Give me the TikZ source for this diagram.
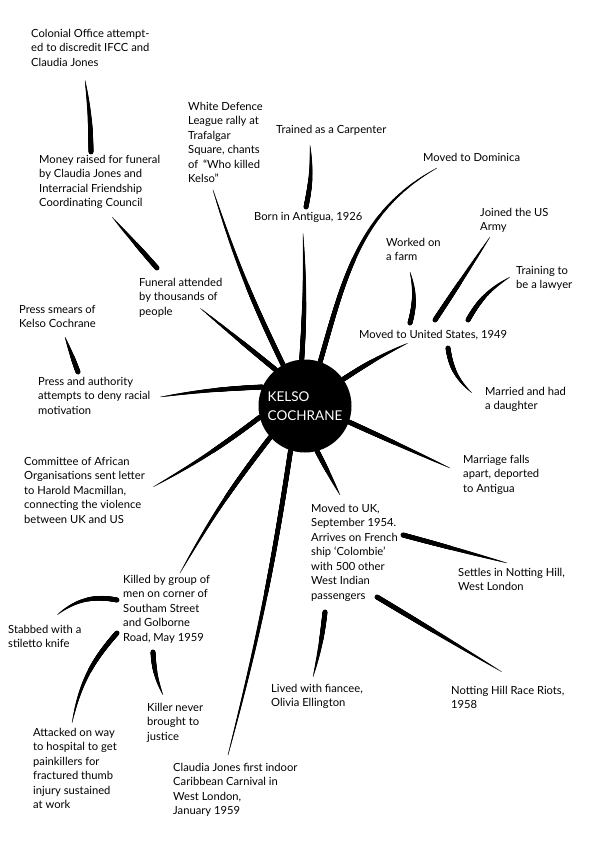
\documentclass[tikz,border=0pt]{standalone}
\usepackage{fontspec}
\setmainfont{Lato}
\usetikzlibrary{positioning, calc, decorations.markings}

\tikzset{
  note/.style={anchor=north west, inner sep=0pt, align=left, font=\fontsize{11.2}{14.5}\selectfont},
  brush/.style={decorate, decoration={markings,
      mark=between positions 0 and 1 step 0.4pt with {%
        \pgfmathsetmacro\brushr{#1*(1-(\pgfkeysvalueof{/pgf/decoration/mark info/distance from start}/\pgfdecoratedpathlength)^2)+0.25}%
        \fill circle[radius=\brushr pt];}}},
  brush/.default=2.2
}

\begin{document}
\begin{tikzpicture}[x=1pt, y=1pt]
  \fill[white] (0,0) rectangle (595,-842);
  \useasboundingbox (0,0) rectangle (595,-842);

  % centre
  \node[circle, fill=black, minimum size=93pt, inner sep=0, text=white, align=left,
        font=\fontsize{13.5}{19.5}\selectfont] (kelso) at (305,-406) {KELSO\\COCHRANE};

  % upper left
  \node[note] (colonial) at (31,-29) {Colonial Office attempt-\\ed to discredit IFCC and\\Claudia Jones};
  \node[note] (money) at (39,-155) {Money raised for funeral\\by Claudia Jones and\\Interracial Friendship\\Coordinating Council};
  \node[note] (white) at (188,-102) {White Defence\\League rally at\\Trafalgar\\Square, chants\\of \,“Who killed\\Kelso”};
  \node[note] (funeral) at (139,-278) {Funeral attended\\by thousands of\\people};
  \node[note] (smears) at (19,-305) {Press smears of\\Kelso Cochrane};
  \node[note] (press) at (38,-377) {Press and authority\\attempts to deny racial\\motivation};
  \node[note] (committee) at (24,-457) {Committee of African\\Organisations sent letter\\to Harold Macmillan,\\connecting the violence\\between UK and US};

  % upper right
  \node[note] (trained) at (276,-125) {Trained as a Carpenter};
  \node[note] (born) at (254,-212) {Born in Antigua, 1926};
  \node[note] (dominica) at (423,-153) {Moved to Dominica};
  \node[note] (army) at (480,-208) {Joined the US\\Army};
  \node[note] (farm) at (386,-238) {Worked on\\a farm};
  \node[note] (lawyer) at (516,-266) {Training to\\be a lawyer};
  \node[note] (states) at (359,-330) {Moved to United States, 1949};
  \node[note] (married) at (485,-387) {Married and had\\a daughter};
  \node[note] (marriage) at (463,-455) {Marriage falls\\apart, deported\\to Antigua};

  % lower right
  \node[note] (uk) at (311,-504) {Moved to UK,\\September 1954.\\Arrives on French\\ship ‘Colombie’\\with 500 other\\West Indian\\passengers};
  \node[note] (settles) at (458,-568) {Settles in Notting Hill,\\West London};
  \node[note] (riots) at (451,-686) {Notting Hill Race Riots,\\1958};
  \node[note] (fiancee) at (271,-684) {Lived with fiancee,\\Olivia Ellington};

  % lower left
  \node[note] (killed) at (123,-575) {Killed by group of\\men on corner of\\Southam Street\\and Golborne\\Road, May 1959};
  \node[note] (stabbed) at (8,-625) {Stabbed with a\\stiletto knife};
  \node[note] (attacked) at (33,-728) {Attacked on way\\to hospital to get\\painkillers for\\fractured thumb\\injury sustained\\at work};
  \node[note] (killer) at (147,-703) {Killer never\\brought to\\justice};
  \node[note] (claudia) at (173,-763) {Claudia Jones first indoor\\Caribbean Carnival in\\West London,\\January 1959};

  % strokes from the centre
  \path[brush] (kelso.129.5) -- ([shift={(61,-30)}]funeral.north west);
  \path[brush] (kelso.118) to[bend left=4] ([shift={(25,-88)}]white.north west);
  \path[brush] (kelso.94) to[bend right=3] ([shift={(49,-21)}]born.north west);
  \path[brush] (kelso.71) to[out=74, in=209] ([shift={(14,-15)}]dominica.north west);
  \path[brush] (kelso.35) to[bend left=4] ([shift={(49,-13)}]states.north west);
  \path[brush] (kelso.-20) -- ([shift={(-13,-13)}]marriage.north west);
  \path[brush] (kelso.-75) -- ([shift={(29,9)}]uk.north west);
  \path[brush] (kelso.-108) to[bend left=3] ([shift={(55,8)}]claudia.north west);
  \path[brush] (kelso.-138) to[bend right=4] ([shift={(57,2)}]killed.north west);
  \path[brush] (kelso.-166) to[bend left=4] ([shift={(129,-30)}]committee.north west);
  \path[brush] (kelso.156) to[bend right=3] ([shift={(122,-20)}]press.north west);

  % outer strokes
  \path[brush] ([shift={(52,5)}]born.north west) to[bend right=8] ([shift={(34,-20)}]trained.north west);
  \path[brush] ([shift={(51,7)}]states.north west) to[bend right=15] ([shift={(24,-34)}]farm.north west);
  \path[brush] ([shift={(76,10)}]states.north west) -- ([shift={(10,-29)}]army.north west);
  \path[brush] ([shift={(109,10)}]states.north west) to[bend left=15] ([shift={(-6,-11)}]lawyer.north west);
  \path[brush] ([shift={(89,-18)}]states.north west) to[bend right=20] ([shift={(-13,-6)}]married.north west);
  \path[brush] ([shift={(92,-31)}]uk.north west) -- ([shift={(49,5)}]settles.north west);
  \path[brush] ([shift={(66,-93)}]uk.north west) -- ([shift={(51,14)}]riots.north west);
  \path[brush] ([shift={(14,-108)}]uk.north west) to[bend left=4] ([shift={(42,7)}]fiancee.north west);
  \path[brush] ([shift={(40,5)}]press.north west) -- ([shift={(46,-32)}]smears.north west);
  \path[brush] ([shift={(18,10)}]funeral.north west) -- ([shift={(73,-62)}]money.north west);
  \path[brush] ([shift={(52,3)}]money.north west) to[bend right=4] ([shift={(54,-51)}]colonial.north west);
  \path[brush] ([shift={(-6,-25)}]killed.north west) to[bend right=25] ([shift={(49,10)}]stabbed.north west);
  \path[brush] ([shift={(-6,-58)}]killed.north west) to[bend right=15] ([shift={(39,5)}]attacked.north west);
  \path[brush] ([shift={(30,-77)}]killed.north west) to[bend right=10] ([shift={(16,8)}]killer.north west);
\end{tikzpicture}
\end{document}
